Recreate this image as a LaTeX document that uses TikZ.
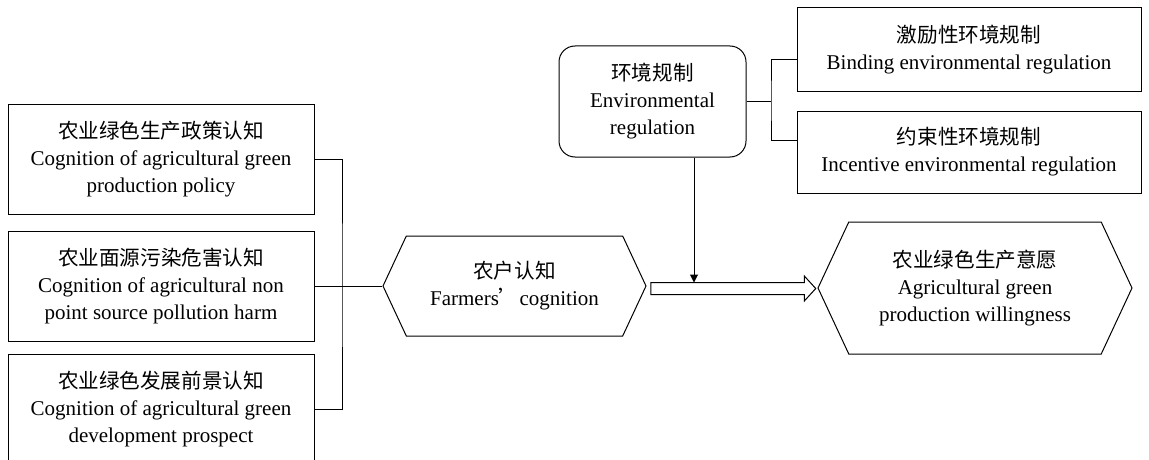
\documentclass[tikz,border=0pt]{standalone}
\usepackage{fontspec}
\setmainfont{Liberation Serif}
\newfontfamily\cjk[Scale=0.98]{Noto Sans CJK SC}
\usetikzlibrary{shapes.symbols, shapes.arrows, arrows.meta}
\begin{document}
\begin{tikzpicture}[x = 1pt, y = -1pt]
    \tikzset{
        base-box/.style = {
            draw, line width = 1pt, align = center, inner sep = 0pt,
            font = \fontsize{21}{27}\selectfont
        },
        cog-box/.style = {
            base-box, minimum width = 306pt, minimum height = 110pt
        },
        sub-box/.style = {
            base-box, minimum width = 344pt
        },
        env-box/.style = {
            base-box, rounded corners = 16pt,
            minimum width = 187pt, minimum height = 111pt
        },
        hex-box/.style = {
            base-box, signal, signal to = west and east,
            signal pointer angle = 130
        },
        flow-arrow/.style = {
            draw, line width = 1pt, single arrow, inner xsep = 0pt,
            inner ysep = 5.5pt, minimum height = 165pt,
            single arrow head extend = 6.5pt, single arrow tip angle = 95
        }
    }

    \useasboundingbox (0, 0) rectangle (1149, 460);

    \node[cog-box] (policy) at (161, 159)
        {{\cjk 农业绿色生产政策认知}\\Cognition of agricultural green\\production policy};
    \node[cog-box] (harm) at (161, 286)
        {{\cjk 农业面源污染危害认知}\\Cognition of agricultural non\\point source pollution harm};
    \node[cog-box] (prospect) at (161, 409)
        {{\cjk 农业绿色发展前景认知}\\Cognition of agricultural green\\development prospect};

    \node[hex-box, minimum width = 263pt, minimum height = 100pt] (farm) at (514.5, 286)
        {{\cjk 农户认知}\\Farmers{\cjk ’}cognition};
    \node[hex-box, minimum width = 314pt, minimum height = 132pt] (will) at (975, 288)
        {{\cjk 农业绿色生产意愿}\\Agricultural green\\production willingness};

    \node[env-box] (env) at (652.5, 101.5)
        {{\cjk 环境规制}\\Environmental\\regulation};
    \node[sub-box, minimum height = 84pt] (bind) at (969, 50)
        {{\cjk 激励性环境规制}\\Binding environmental regulation};
    \node[sub-box, minimum height = 82pt] (incent) at (969, 152)
        {{\cjk 约束性环境规制}\\Incentive environmental regulation};

    \node[flow-arrow] (flow) at (730.5, 288.5) {};

    \coordinate (left-join) at (342, 286);
    \coordinate (right-join) at (771, 101.5);
    \coordinate (hit) at (694, 282.5);

    \draw[line width = 1pt] (policy.east) -| (left-join) |- (prospect.east);
    \draw[line width = 1pt] (harm.east) -- (farm.west);
    \draw[line width = 1pt] (env.east) -- (right-join);
    \draw[line width = 1pt] ([yshift = -10pt]bind.west) -| (right-join)
        |- ([yshift = 12pt]incent.west);
    \draw[line width = 1pt, -{Triangle[length = 8pt, width = 8pt]}]
        (env.south -| hit) -- (hit);
\end{tikzpicture}
\end{document}
